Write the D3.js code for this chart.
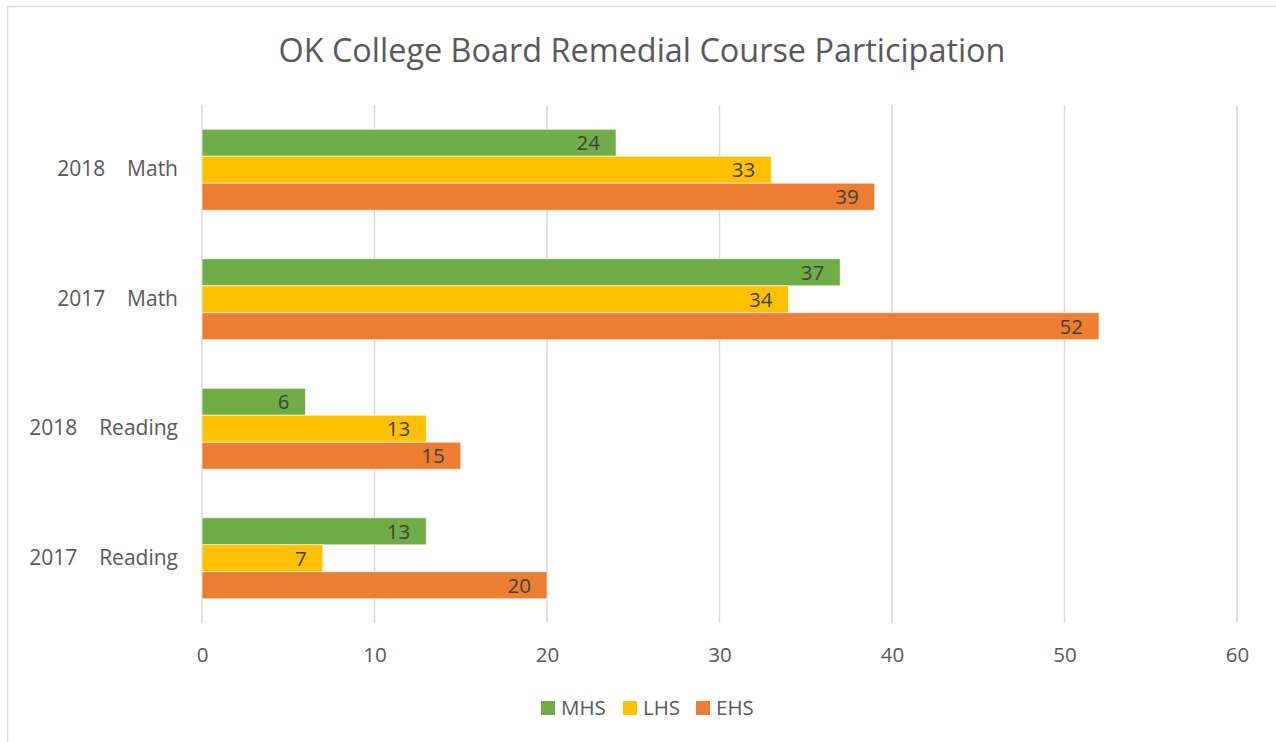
<!DOCTYPE html>
<html>
<head>
<meta charset="utf-8">
<script src="https://cdn.jsdelivr.net/npm/d3@7"></script>
<style>
  body { margin: 0; background: #fff; }
  svg { display: block; font-family: "Open Sans", sans-serif; }
</style>
</head>
<body>
<svg id="chart" width="1276" height="742"></svg>
<script>
// data
const categories = ["2018    Math", "2017    Math", "2018    Reading", "2017    Reading"]
const schools = ["MHS", "LHS", "EHS"]
const mhs = [24, 37, 6, 13]
const lhs = [33, 34, 13, 7]
const ehs = [39, 52, 15, 20]
const xTicks = [0, 10, 20, 30, 40, 50, 60]
const colors = ["#70AD47", "#FFC000", "#ED7D31"]

const series = [mhs, lhs, ehs]
const rows = categories.map((c, i) => ({ cat: c, values: series.map((s, j) => ({ key: schools[j], value: s[i] })) }))

const svg = d3.select("#chart")
const margin = { left: 202, right: 39, top: 105, bottom: 119 }
const W = 1276, H = 742

// chart frame (only top/left visible in the reference)
svg.append("rect")
    .attr("x", 7.5).attr("y", 6.5)
    .attr("width", W + 10).attr("height", H + 10)
    .attr("fill", "none").attr("stroke", "#D9D9D9").attr("stroke-width", 1.5)

svg.append("text")
    .attr("x", 642).attr("y", 62)
    .attr("text-anchor", "middle")
    .attr("font-size", 32.4)
    .attr("fill", "#595959")
    .text("OK College Board Remedial Course Participation")

const x = d3.scaleLinear().domain([0, 60]).range([margin.left, W - margin.right])
const y = d3.scaleBand().domain(categories).range([margin.top, H - margin.bottom]).paddingInner(0.375).paddingOuter(0.1875)
const yInner = d3.scaleBand().domain(schools).range([0, y.bandwidth()])

// gridlines
svg.append("g")
    .selectAll("line")
    .data(xTicks)
    .join("line")
    .attr("x1", d => x(d)).attr("x2", d => x(d))
    .attr("y1", margin.top).attr("y2", H - margin.bottom)
    .attr("stroke", "#D9D9D9").attr("stroke-width", 1.5)

// x axis labels
const xAxis = d3.axisBottom(x).tickValues(xTicks).tickSize(0).tickPadding(0)
const gx = svg.append("g")
    .attr("transform", `translate(0,${H - margin.bottom + 24})`)
    .call(xAxis)
gx.select(".domain").remove()
gx.selectAll("text").attr("font-size", 20.5).attr("fill", "#595959").attr("font-family", "Open Sans")

// y axis labels
const yAxis = d3.axisLeft(y).tickSize(0).tickPadding(24)
const gy = svg.append("g")
    .attr("transform", `translate(${margin.left},0)`)
    .call(yAxis)
gy.select(".domain").remove()
gy.selectAll("text")
    .attr("font-size", 21).attr("fill", "#595959").attr("font-family", "Open Sans")
    .style("white-space", "pre")

// bars
const groups = svg.append("g")
    .selectAll("g")
    .data(rows)
    .join("g")
    .attr("transform", d => `translate(0,${y(d.cat)})`)

groups.selectAll("rect")
    .data(d => d.values)
    .join("rect")
    .attr("x", x(0))
    .attr("y", d => yInner(d.key))
    .attr("width", d => x(d.value) - x(0))
    .attr("height", yInner.bandwidth())
    .attr("fill", (d, i) => colors[i])
    .attr("stroke", "rgba(255,255,255,0.6)")
    .attr("stroke-width", 1)

groups.selectAll("text")
    .data(d => d.values)
    .join("text")
    .attr("x", d => x(d.value) - 16)
    .attr("y", d => yInner(d.key) + yInner.bandwidth() / 2)
    .attr("dy", "0.36em")
    .attr("text-anchor", "end")
    .attr("font-size", 20.5)
    .attr("fill", "#404040")
    .text(d => d.value)

// legend
const legendX = [541, 623, 696]
const legend = svg.append("g")
    .selectAll("g")
    .data(schools)
    .join("g")
    .attr("transform", (d, i) => `translate(${legendX[i]},701)`)
legend.append("rect")
    .attr("width", 14).attr("height", 14)
    .attr("fill", (d, i) => colors[i])
legend.append("text")
    .attr("x", 20).attr("y", 7).attr("dy", "0.36em")
    .attr("font-size", 20.5).attr("fill", "#595959")
    .text(d => d)
</script>
</body>
</html>
